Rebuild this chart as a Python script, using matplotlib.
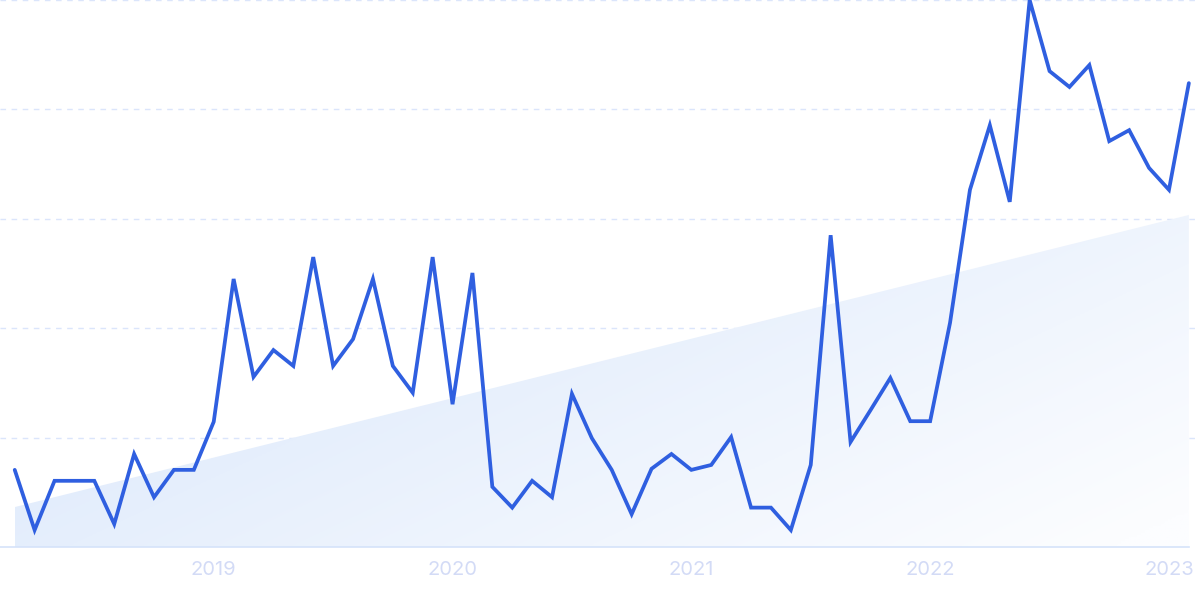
import numpy as np
import pandas as pd
import matplotlib
matplotlib.use("Agg")
import matplotlib.pyplot as plt
from matplotlib.patches import Polygon

## monthly interest values, Mar 2018 .. Feb 2023
months = pd.date_range("2018-03-01", periods=60, freq="MS")
values = [14.1, 3.1, 12.1, 12.1, 12.1, 4.2, 17.0, 9.1, 14.1, 14.1,
          22.9, 49.0, 31.1, 36.0, 33.1, 53.0, 33.1, 38.0, 49.0, 33.1,
          28.2, 53.0, 26.1, 50.1, 11.0, 7.2, 12.1, 9.1, 28.0, 19.9,
          14.1, 6.0, 14.3, 17.0, 14.1, 15.0, 20.1, 7.2, 7.2, 3.1,
          15.0, 57.0, 19.2, 25.0, 30.9, 23.0, 23.0, 41.0, 65.3, 77.1,
          63.1, 100.0, 87.0, 84.1, 88.1, 74.2, 76.2, 69.3, 65.3, 84.8]
trend_start, trend_end = 7.3, 60.7
year_ticks = ["2019", "2020", "2021", "2022", "2023"]

line_color = "#2f5fe0"
grid_color = "#dbe5fb"
tick_color = "#d3dbf6"

x = np.arange(len(values))
tick_pos = [i for i, m in enumerate(months) if m.month == 1]

fig = plt.figure(figsize=(12, 5.99), dpi=100)
ax = fig.add_axes([0, 52 / 599, 1, 547 / 599])
ax.set_xlim(-0.74, 59.56)
ax.set_ylim(0, 100)

# gradient trend area
poly = Polygon([(x[0], 0), (x[0], trend_start), (x[-1], trend_end), (x[-1], 0)],
               closed=True, facecolor="none", edgecolor="none")
ax.add_patch(poly)
gx, gy = np.meshgrid(np.linspace(0, 1, 300), np.linspace(1, 0, 150))
t = np.clip(0.75 * gx + 0.45 * (1 - gy) - 0.15, 0, 1)
c0 = np.array([219, 232, 251]) / 255.0
c1 = np.array([252, 253, 255]) / 255.0
img = c0[None, None, :] * (1 - t[..., None]) + c1[None, None, :] * t[..., None]
im = ax.imshow(img, extent=(x[0], x[-1], 0, trend_end), aspect="auto",
               origin="upper", zorder=1)
im.set_clip_path(poly)

# grid
for g in [20, 40, 60, 80, 100]:
    ax.axhline(g, color=grid_color, lw=1, ls=(0, (4, 4)), zorder=0, clip_on=False)
ax.plot([-0.74, x[-1]], [0, 0], color="#d5e3fa", lw=1.2, zorder=2, clip_on=False)

ax.plot(x, values, color=line_color, lw=2.7, solid_joinstyle="miter",
        solid_capstyle="round", zorder=3, clip_on=False)

for s in ax.spines.values():
    s.set_visible(False)
ax.set_yticks([])
ax.set_xticks(tick_pos)
ax.set_xticklabels(year_ticks, fontsize=14.5, color=tick_color, family="Inter")
ax.tick_params(axis="x", length=0, pad=10)

plt.savefig("out.png", dpi=100)
